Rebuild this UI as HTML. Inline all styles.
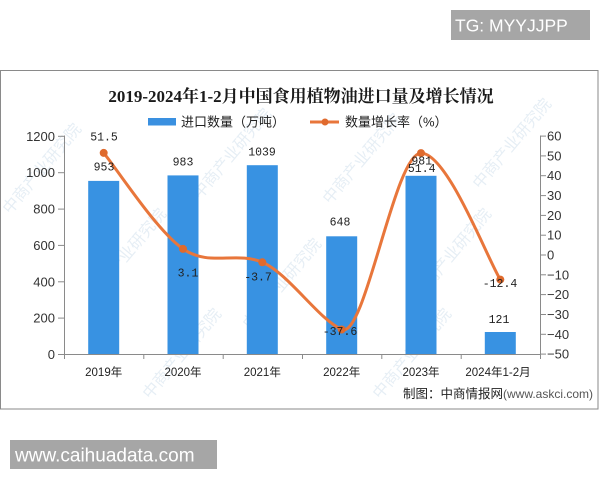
<!DOCTYPE html>
<html>
<head>
<meta charset="utf-8">
<style>
  html,body{margin:0;padding:0;background:#fff;}
  body{width:600px;height:480px;overflow:hidden;position:relative;}
  svg{position:absolute;left:0;top:0;}
</style>
</head>
<body>
<svg width="600" height="480" viewBox="0 0 600 480" xmlns="http://www.w3.org/2000/svg">
  <rect x="0" y="0" width="600" height="480" fill="#ffffff"/>

  <!-- TG box -->
  <rect x="451" y="10" width="139" height="30" fill="#a6a6a6"/>
  <text x="455" y="31.5" font-family="Liberation Sans, sans-serif" font-size="17.5" fill="#ffffff">TG: MYYJJPP</text>

  <!-- chart frame -->
  <rect x="0.5" y="70.5" width="597.5" height="338.5" fill="#ffffff" stroke="#8a8a8a" stroke-width="1"/>

  <!-- watermarks -->
  <g font-family="Liberation Sans, 'Noto Sans CJK SC', sans-serif" font-size="16" fill="#c9dbe9" opacity="0.45">
    <text transform="translate(10,215) rotate(-50)">中商产业研究院</text>
    <text transform="translate(95,300) rotate(-50)">中商产业研究院</text>
    <text transform="translate(200,200) rotate(-50)">中商产业研究院</text>
    <text transform="translate(250,330) rotate(-50)">中商产业研究院</text>
    <text transform="translate(330,205) rotate(-50)">中商产业研究院</text>
    <text transform="translate(420,300) rotate(-50)">中商产业研究院</text>
    <text transform="translate(480,190) rotate(-50)">中商产业研究院</text>
    <text transform="translate(150,400) rotate(-50)">中商产业研究院</text>
    <text transform="translate(380,400) rotate(-50)">中商产业研究院</text>
  </g>

  <!-- title -->
  <text x="301" y="102" text-anchor="middle" font-family="Liberation Serif, 'Noto Serif CJK SC', serif" font-weight="bold" font-size="17" fill="#1a1a1a">2019-2024年1-2月中国食用植物油进口量及增长情况</text>

  <!-- legend -->
  <rect x="148" y="118" width="28" height="7.5" fill="#3a90e0"/>
  <text x="181" y="126.5" font-family="Liberation Sans, 'Noto Sans CJK SC', sans-serif" font-size="13" fill="#222">进口数量（万吨）</text>
  <line x1="310" y1="122" x2="339" y2="122" stroke="#e8763b" stroke-width="3"/>
  <circle cx="325" cy="122" r="3.5" fill="#e06a2e"/>
  <text x="345" y="126.5" font-family="Liberation Sans, 'Noto Sans CJK SC', sans-serif" font-size="13" fill="#222">数量增长率（%）</text>

  <!-- bars -->
  <g fill="#3892e2">
    <rect x="88.2" y="180.9" width="31" height="173.1"/>
    <rect x="167.5" y="175.4" width="31" height="178.6"/>
    <rect x="246.8" y="165.2" width="31" height="188.8"/>
    <rect x="326.2" y="236.3" width="31" height="117.7"/>
    <rect x="405.5" y="175.8" width="31" height="178.2"/>
    <rect x="484.8" y="332.0" width="31" height="22"/>
  </g>

  <!-- axes -->
  <g stroke="#8a8a8a" stroke-width="1" fill="none">
    <line x1="64.5" y1="135.5" x2="64.5" y2="354.5"/>
    <line x1="540.5" y1="135.5" x2="540.5" y2="354.5"/>
    <line x1="64" y1="354.5" x2="541" y2="354.5"/>
    <line x1="58" y1="354.5" x2="64" y2="354.5"/>
    <line x1="58" y1="318.1" x2="64" y2="318.1"/>
    <line x1="58" y1="281.8" x2="64" y2="281.8"/>
    <line x1="58" y1="245.4" x2="64" y2="245.4"/>
    <line x1="58" y1="209.1" x2="64" y2="209.1"/>
    <line x1="58" y1="172.7" x2="64" y2="172.7"/>
    <line x1="58" y1="136.3" x2="64" y2="136.3"/>
    <line x1="541" y1="136.1" x2="546" y2="136.1"/>
    <line x1="541" y1="155.9" x2="546" y2="155.9"/>
    <line x1="541" y1="175.7" x2="546" y2="175.7"/>
    <line x1="541" y1="195.6" x2="546" y2="195.6"/>
    <line x1="541" y1="215.4" x2="546" y2="215.4"/>
    <line x1="541" y1="235.2" x2="546" y2="235.2"/>
    <line x1="541" y1="255.0" x2="546" y2="255.0"/>
    <line x1="541" y1="274.8" x2="546" y2="274.8"/>
    <line x1="541" y1="294.6" x2="546" y2="294.6"/>
    <line x1="541" y1="314.5" x2="546" y2="314.5"/>
    <line x1="541" y1="334.3" x2="546" y2="334.3"/>
    <line x1="541" y1="354.1" x2="546" y2="354.1"/>
    <line x1="64.5" y1="354" x2="64.5" y2="359"/>
    <line x1="143.8" y1="354" x2="143.8" y2="359"/>
    <line x1="223.2" y1="354" x2="223.2" y2="359"/>
    <line x1="302.5" y1="354" x2="302.5" y2="359"/>
    <line x1="381.8" y1="354" x2="381.8" y2="359"/>
    <line x1="461.2" y1="354" x2="461.2" y2="359"/>
    <line x1="540.5" y1="354" x2="540.5" y2="359"/>
  </g>

  <!-- left axis labels -->
  <g font-family="Liberation Sans, sans-serif" font-size="13" fill="#333" text-anchor="end">
    <text x="55" y="359">0</text>
    <text x="55" y="322.6">200</text>
    <text x="55" y="286.3">400</text>
    <text x="55" y="249.9">600</text>
    <text x="55" y="213.6">800</text>
    <text x="55" y="177.2">1000</text>
    <text x="55" y="140.8">1200</text>
  </g>

  <!-- right axis labels -->
  <g font-family="Liberation Sans, sans-serif" font-size="13" fill="#333">
    <text x="547" y="140.6">60</text>
    <text x="547" y="160.4">50</text>
    <text x="547" y="180.2">40</text>
    <text x="547" y="200.1">30</text>
    <text x="547" y="219.9">20</text>
    <text x="547" y="239.7">10</text>
    <text x="547" y="259.5">0</text>
    <text x="547" y="279.3">−10</text>
    <text x="547" y="299.1">−20</text>
    <text x="547" y="319.0">−30</text>
    <text x="547" y="338.8">−40</text>
    <text x="547" y="358.6">−50</text>
  </g>

  <!-- x labels -->
  <g font-family="Liberation Sans, 'Noto Sans CJK SC', sans-serif" font-size="11.5" fill="#222" text-anchor="middle">
    <text x="103.7" y="376">2019年</text>
    <text x="183" y="376">2020年</text>
    <text x="262.3" y="376">2021年</text>
    <text x="341.7" y="376">2022年</text>
    <text x="421" y="376">2023年</text>
    <text x="498" y="376">2024年1-2月</text>
  </g>

  <!-- growth line -->
  <path d="M103.7,152.9 C116.9,168.9 156.6,230.7 183,248.9 C209.4,267.1 235.9,250.9 262.3,262.3 C288.8,273.7 318.1,318.9 341.7,329.5 C365.1,340.1 394.4,153.1 421,153.1 C447.4,153.1 487.1,258.2 500.3,279.6"
        fill="none" stroke="#e8763b" stroke-width="3" stroke-linecap="round"/>
  <g fill="#df6a2d">
    <circle cx="103.7" cy="152.9" r="4"/>
    <circle cx="183" cy="248.9" r="4"/>
    <circle cx="262.3" cy="262.3" r="4"/>
    <circle cx="341.7" cy="329.5" r="4"/>
    <circle cx="421" cy="153.1" r="4"/>
    <circle cx="500.3" cy="279.6" r="4"/>
  </g>

  <!-- data labels -->
  <g font-family="Liberation Mono, monospace" font-size="11.5" fill="#222" text-anchor="middle">
    <text x="104" y="170.5">953</text>
    <text x="183" y="165.5">983</text>
    <text x="262" y="155.5">1039</text>
    <text x="340" y="225.5">648</text>
    <text x="421.7" y="164.5">981</text>
    <text x="499" y="323">121</text>
    <text x="104" y="140.5">51.5</text>
    <text x="188" y="276.5">3.1</text>
    <text x="258" y="280.5">-3.7</text>
    <text x="340" y="335">-37.6</text>
    <text x="421.7" y="172">51.4</text>
    <text x="500" y="287">-12.4</text>
  </g>

  <!-- source -->
  <text x="403" y="398" font-family="Liberation Sans, 'Noto Sans CJK SC', sans-serif" font-size="12.5" fill="#222">制图：中商情报网<tspan font-size="12" fill="#555">(www.askci.com)</tspan></text>

  <!-- website box -->
  <rect x="10" y="440" width="207" height="29" fill="#a6a6a6"/>
  <text x="15" y="461.5" font-family="Liberation Sans, sans-serif" font-size="19" fill="#ffffff">www.caihuadata.com</text>
</svg>
</body>
</html>
